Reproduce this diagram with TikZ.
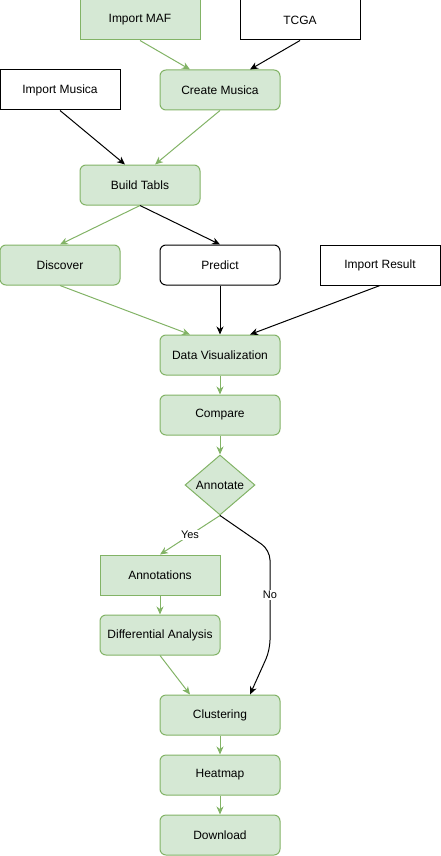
\documentclass[tikz,border=0pt]{standalone}
\usepackage{fontspec}
\setmainfont{Liberation Sans}
\usetikzlibrary{arrows.meta,shapes.geometric}
\definecolor{gfill}{HTML}{D5E8D4}
\definecolor{gline}{HTML}{82B366}
\begin{document}
\begin{tikzpicture}[x=1pt,y=-1pt,
  base/.style={draw, line width=1pt, minimum width=120pt, minimum height=40pt, inner sep=0pt, font=\fontsize{12}{14}\selectfont},
  gbox/.style={base, draw=gline, fill=gfill},
  grbox/.style={gbox, rounded corners=6pt},
  wbox/.style={base, draw=black, fill=white},
  wrbox/.style={wbox, rounded corners=6pt},
  dec/.style={draw=gline, fill=gfill, line width=1pt, shape=diamond, shape aspect=1.17, minimum width=70pt, minimum height=60pt, inner sep=0pt, font=\fontsize{12}{14}\selectfont},
  garr/.style={draw=gline, line width=1pt, -{Stealth[length=8pt,width=7pt,inset=2.5pt]}},
  barr/.style={draw=black, line width=1pt, -{Stealth[length=8pt,width=7pt,inset=2.5pt]}},
  lbl/.style={fill=white, inner sep=1pt, font=\fontsize{11}{13}\selectfont}
]
\useasboundingbox (0,0) rectangle (441,856);
\node[gbox]  (maf)  at (140,20)  {Import MAF};
\node[wbox]  (tcga) at (300,20)  {TCGA};
\node[wbox]  (imus) at (60,90)   {Import Musica};
\node[grbox] (cmus) at (220,90)  {Create Musica};
\node[grbox] (bt)   at (140,185) {Build Tabls};
\node[grbox] (disc) at (60,265)  {Discover};
\node[wrbox] (pred) at (220,265) {Predict};
\node[wbox]  (ires) at (380,265) {Import Result};
\node[grbox] (dv)   at (220,355) {Data Visualization};
\node[grbox] (cmp)  at (220,415) {Compare};
\node[dec]   (ann)  at (220,485) {Annotate};
\node[gbox]  (anns) at (160,575) {Annotations};
\node[grbox] (dif)  at (160,635) {Differential Analysis};
\node[grbox] (clu)  at (220,715) {Clustering};
\node[grbox] (heat) at (220,775) {Heatmap};
\node[grbox] (dl)   at (220,835) {Download};

\draw[garr] (maf.south) -- ([xshift=-30pt]cmus.north);
\draw[barr] (tcga.south) -- ([xshift=30pt]cmus.north);
\draw[barr] (imus.south) -- ([xshift=-15pt]bt.north);
\draw[garr] (cmus.south) -- ([xshift=15pt]bt.north);
\draw[garr] (bt.south) -- (disc.north);
\draw[barr] (bt.south) -- (pred.north);
\draw[garr] (disc.south) -- ([xshift=-30pt]dv.north);
\draw[barr] (pred.south) -- (dv.north);
\draw[barr] (ires.south) -- ([xshift=30pt]dv.north);
\draw[garr] (dv.south) -- (cmp.north);
\draw[garr] (cmp.south) -- (ann.north);
\draw[garr] (ann.south) -- node[lbl, pos=0.5] {Yes} (anns.north);
\draw[barr, rounded corners=10pt] (ann.south) -- (270,550) -- (270,650) -- ([xshift=30pt]clu.north);
\node[lbl] (nolbl) at (270,595) {No};
\draw[garr] (anns.south) -- (dif.north);
\draw[garr] (dif.south) -- ([xshift=-30pt]clu.north);
\draw[garr] (clu.south) -- (heat.north);
\draw[garr] (heat.south) -- (dl.north);
\end{tikzpicture}
\end{document}
